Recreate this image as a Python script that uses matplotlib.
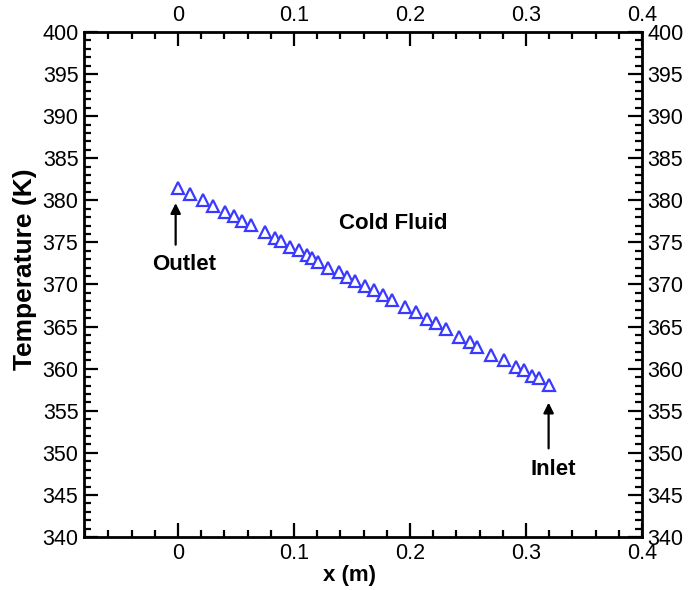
import matplotlib.pyplot as plt
from matplotlib.ticker import MultipleLocator

plt.rcParams['font.family'] = ['Liberation Sans', 'DejaVu Sans']

# cold fluid temperature along the exchanger
x_m = [0.0, 0.0108, 0.0216, 0.0298, 0.0406, 0.0479, 0.0548, 0.0630, 0.0746,
       0.0837, 0.0889, 0.0966, 0.1040, 0.1113, 0.1152, 0.1204, 0.1297, 0.1385,
       0.1458, 0.1527, 0.1609, 0.1687, 0.1766, 0.1842, 0.1959, 0.2051, 0.2151,
       0.2226, 0.2308, 0.2420, 0.2519, 0.2580, 0.2698, 0.2808, 0.2916, 0.2985,
       0.3054, 0.3115, 0.3201]
temp_k = [381.5, 380.7, 380.0, 379.3, 378.6, 378.1, 377.5, 377.1, 376.2,
          375.5, 375.2, 374.5, 374.1, 373.5, 373.1, 372.7, 372.0, 371.5,
          370.9, 370.4, 369.8, 369.3, 368.7, 368.1, 367.3, 366.7, 365.9,
          365.4, 364.7, 363.8, 363.2, 362.6, 361.6, 361.0, 360.2, 359.8,
          359.1, 358.9, 358.1]

fig = plt.figure(figsize=(6.96, 5.90), dpi=100)
ax = fig.add_axes([0.1207, 0.0898, 0.8017, 0.856])

ax.plot(x_m, temp_k, linestyle='none', marker='^', markersize=8,
        markerfacecolor='white', markeredgecolor='#3a3aff', markeredgewidth=1.6)

ax.set_xlim(-0.081, 0.4)
ax.set_ylim(340, 400)
ax.xaxis.set_major_locator(MultipleLocator(0.1))
ax.xaxis.set_minor_locator(MultipleLocator(0.02))
ax.yaxis.set_major_locator(MultipleLocator(5))
ax.yaxis.set_minor_locator(MultipleLocator(1))
ax.xaxis.set_major_formatter(plt.FuncFormatter(lambda v, p: f'{v:g}'))

ax.tick_params(which='both', direction='in', top=True, right=True,
               labeltop=True, labelright=True, labelsize=15.5, width=1.6)
ax.tick_params(which='major', length=10, pad=4)
ax.tick_params(which='minor', length=5)
for s in ax.spines.values():
    s.set_linewidth(2)

ax.set_xlabel('x (m)', fontsize=16, fontweight='bold')
ax.set_ylabel('Temperature (K)', fontsize=19, fontweight='bold')
ax.xaxis.set_label_coords(0.475, -0.055)
ax.yaxis.set_label_coords(-0.085, 0.53)

ax.text(0.1855, 377.2, 'Cold Fluid', fontsize=16, fontweight='bold',
        ha='center', va='center')

arrow = dict(arrowstyle='-|>', color='black', lw=1.6, mutation_scale=15)
ax.annotate('', xy=(-0.002, 380.0), xytext=(-0.002, 374.4), arrowprops=arrow)
ax.text(0.005, 372.4, 'Outlet', fontsize=16, fontweight='bold',
        ha='center', va='center')
ax.annotate('', xy=(0.3195, 356.3), xytext=(0.3195, 350.2), arrowprops=arrow)
ax.text(0.3236, 348.0, 'Inlet', fontsize=16, fontweight='bold',
        ha='center', va='center')

fig.savefig('out.png', dpi=100)
